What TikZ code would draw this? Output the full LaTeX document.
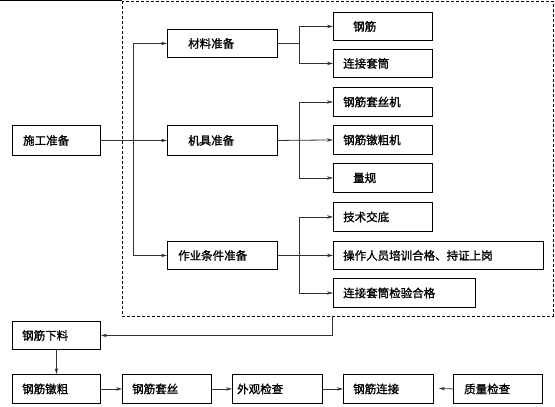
\documentclass[tikz,border=0pt]{standalone}
\usepackage{fontspec}
\setmainfont{Noto Sans CJK SC}[FakeBold=1.2]
\usetikzlibrary{arrows.meta,calc}
\tikzset{
  box/.style={draw=black, line width=0.9pt, rectangle, inner sep=0pt, anchor=north west},
  txt/.style={anchor=west, inner sep=0pt, font=\fontsize{11.5}{12}\selectfont, text=black},
  conn/.style={draw=black!80, line width=0.8pt},
  arr/.style={conn, -{Stealth[length=6pt,width=3.5pt]}},
  dashbox/.style={draw=black, line width=0.8pt, dash pattern=on 3pt off 2pt}
}
\newcommand{\mybox}[7]{%
  % #1 name, #2 x0, #3 y0, #4 x1, #5 y1, #6 text inset, #7 text
  \node[box, minimum width={#4-#2}, minimum height={#5-#3}] (#1) at (#2,#3) {};
  \node[txt] (#1-t) at ([xshift=#6]#1.west) {#7};
}
\begin{document}
\begin{tikzpicture}[x=1pt,y=-1pt]
\useasboundingbox (0,0) rectangle (555,407);
% dashed frame and top line
\draw[dashbox] (122,1) rectangle (553,316);
\draw[line width=1pt] (0,0.8) -- (122,0.8);
\mybox{sg}{12}{125}{100}{155}{11}{施工准备}
\mybox{mat}{167}{29}{277}{57}{21}{材料准备}
\mybox{jj}{167}{125}{277}{155}{21}{机具准备}
\mybox{job}{167}{241}{277}{269}{11}{作业条件准备}
\mybox{gj}{333}{12}{432}{40}{20}{钢筋}
\mybox{tt}{333}{49}{432}{77}{10}{连接套筒}
\mybox{tsj}{333}{87}{432}{116}{10}{钢筋套丝机}
\mybox{dcj}{333}{125}{432}{154}{10}{钢筋镦粗机}
\mybox{lg}{333}{163}{432}{192}{20}{量规}
\mybox{js}{333}{202}{432}{231}{10}{技术交底}
\mybox{cz}{333}{241}{543}{269}{10}{操作人员培训合格、持证上岗}
\mybox{jy}{333}{278}{475}{307}{10}{连接套筒检验合格}
\mybox{xl}{12}{321}{100}{349}{10}{钢筋下料}
\mybox{dc}{12}{374}{100}{403}{10}{钢筋镦粗}
\mybox{ts}{122}{374}{211}{403}{10}{钢筋套丝}
\mybox{wg}{232}{374}{322}{403}{5}{外观检查}
\mybox{lj}{343}{374}{433}{403}{10}{钢筋连接}
\mybox{zl}{453}{374}{542}{403}{11}{质量检查}
% spines
\coordinate (s1) at (133,0);
\coordinate (s2) at (299,0);
\coordinate (fb) at (332,316);
\coordinate (qe) at (439,388.5);
% main
\draw[arr] (sg.east) -- (jj.west);
\draw[arr] (sg.east -| s1) |- (mat.west);
\draw[arr] (sg.east -| s1) |- (job.west);
% materials
\draw[conn] (mat.east) -- (mat.east -| s2);
\draw[arr] (mat.east -| s2) |- (gj.west);
\draw[arr] (mat.east -| s2) |- (tt.west);
% tools
\draw[arr] (jj.east) -- (dcj.west);
\draw[arr] (dcj.west -| s2) |- (tsj.west);
\draw[arr] (dcj.west -| s2) |- (lg.west);
% conditions
\draw[arr] (job.east) -- (cz.west);
\draw[arr] (cz.west -| s2) |- (js.west);
\draw[arr] (cz.west -| s2) |- (jy.west);
% feedback
\draw[arr] (fb) |- (xl.east);
\draw[arr] (xl.south) -- (dc.north);
\draw[arr] (dc.east) -- (ts.west);
\draw[arr] (ts.east) -- (wg.west);
\draw[arr] (wg.east) -- (lj.west);
\draw[arr] (zl.west) -- (qe);
\end{tikzpicture}
\end{document}
